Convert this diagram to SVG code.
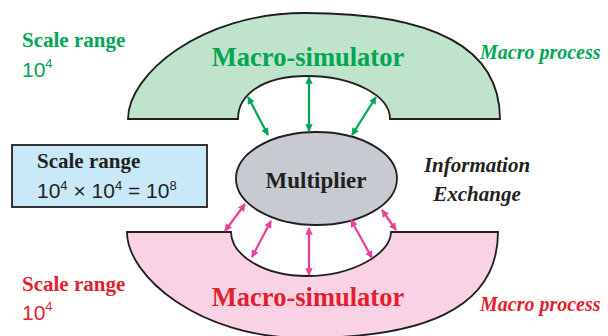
<svg xmlns="http://www.w3.org/2000/svg" width="608" height="336" viewBox="0 0 608 336">
<style>
.shape{stroke:#231f20;stroke-width:1.8;}
.serif{font-family:"Liberation Serif","Times New Roman",serif;font-weight:bold;}
.sans{font-family:"Liberation Sans",Arial,sans-serif;}
.g{fill:#00a651;}
.r{fill:#e31e2d;}
.k{fill:#231f20;}
.ga{stroke:#00a651;stroke-width:2.2;fill:none;marker-start:url(#hg);marker-end:url(#hg);}
.pa{stroke:#ee3d96;stroke-width:2.2;fill:none;marker-start:url(#hp);marker-end:url(#hp);}
</style>
<defs>
<marker id="hg" viewBox="0 0 10 10" refX="9" refY="5" markerWidth="4" markerHeight="3.4" orient="auto-start-reverse"><path d="M0,0 L10,5 L0,10 z" fill="#00a651"/></marker>
<marker id="hp" viewBox="0 0 10 10" refX="9" refY="5" markerWidth="4" markerHeight="3.4" orient="auto-start-reverse"><path d="M0,0 L10,5 L0,10 z" fill="#ee3d96"/></marker>
</defs>
<rect width="608" height="336" fill="#ffffff"/>

<g id="macro-top">
<path class="shape" fill="#bfe3cb" d="M128,119 C128,75 200,13 305,13 C420,13 500,40 500,119 L390,119 C390,95 352,76 307,76 C262,76 238,95 238,119 Z"/>
<text class="serif g" x="308" y="66" font-size="26.5" text-anchor="middle">Macro-simulator</text>
</g>

<g id="macro-bottom">
<path class="shape" fill="#f9d3e5" d="M127,232 C127,276 199,338 304,338 C419,338 498,311 498,232 L391,232 C391,254 352,276 307,276 C262,276 231,254 231,232 Z"/>
<text class="serif r" x="308" y="306" font-size="26.5" text-anchor="middle">Macro-simulator</text>
</g>

<g id="multiplier">
<ellipse class="shape" cx="316.5" cy="178.5" rx="80.5" ry="46.5" fill="#c8cad1"/>
<text class="serif k" x="316" y="188" font-size="23" text-anchor="middle">Multiplier</text>
</g>

<g id="scale-box">
<rect x="12" y="145" width="195" height="62" fill="#c9e9f9" stroke="#231f20" stroke-width="1.8"/>
<text class="serif k" x="37" y="168" font-size="21">Scale range</text>
<text class="sans k" x="37" y="198" font-size="21">10<tspan font-size="13" dy="-8">4</tspan><tspan dy="8"> × 10</tspan><tspan font-size="13" dy="-8">4</tspan><tspan dy="8"> = 10</tspan><tspan font-size="13" dy="-8">8</tspan></text>
</g>

<g id="scale-top">
<text class="serif g" x="22" y="47" font-size="21">Scale range</text>
<text class="sans g" x="22" y="77" font-size="21">10<tspan font-size="13" dy="-9">4</tspan></text>
</g>

<g id="scale-bottom">
<text class="serif r" x="22" y="291" font-size="21">Scale range</text>
<text class="sans r" x="22" y="320" font-size="21">10<tspan font-size="13" dy="-9">4</tspan></text>
</g>

<g id="process-top">
<text class="serif g" x="480" y="59" font-size="20" font-style="italic">Macro process</text>
</g>
<g id="process-bottom">
<text class="serif r" x="480" y="311" font-size="20" font-style="italic">Macro process</text>
</g>

<g id="info-exchange">
<text class="serif k" x="477" y="172" font-size="21" font-style="italic" text-anchor="middle">Information</text>
<text class="serif k" x="477" y="201" font-size="21" font-style="italic" text-anchor="middle">Exchange</text>
</g>

<g id="connectors">
<line class="ga" x1="248" y1="97" x2="268" y2="135"/>
<line class="ga" x1="309" y1="77" x2="309" y2="131"/>
<line class="ga" x1="376" y1="97" x2="352" y2="135"/>
<line class="pa" x1="245" y1="204" x2="225" y2="231"/>
<line class="pa" x1="271" y1="221" x2="252" y2="257"/>
<line class="pa" x1="309" y1="228" x2="309" y2="275"/>
<line class="pa" x1="351" y1="220" x2="372" y2="258"/>
<line class="pa" x1="382" y1="210" x2="396" y2="230"/>
</g>
</svg>
